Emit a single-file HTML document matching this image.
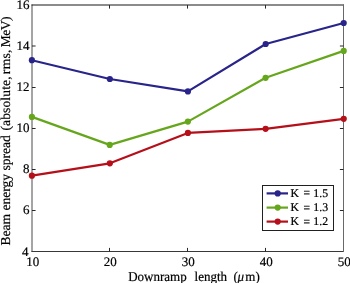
<!DOCTYPE html>
<html><head><meta charset="utf-8"><style>
html,body{margin:0;padding:0;background:#fff;width:350px;height:283px;overflow:hidden}
svg{display:block;will-change:transform}
text{font-family:"Liberation Serif", serif;fill:#000;text-rendering:geometricPrecision;stroke:#000;stroke-width:0.2px}
</style></head><body>
<svg width="350" height="283" viewBox="0 0 350 283">
<line x1="32" y1="4.5" x2="32" y2="252" stroke="#4a4a4a" stroke-width="1"/>
<line x1="31.5" y1="251.5" x2="344" y2="251.5" stroke="#383838" stroke-width="1"/>
<line x1="31.5" y1="5" x2="344" y2="5" stroke="#181818" stroke-width="1.15"/>
<line x1="343.5" y1="4.5" x2="343.5" y2="252" stroke="#686868" stroke-width="1"/>
<line x1="32" y1="210.5" x2="35.6" y2="210.5" stroke="#282828" stroke-width="1"/>
<line x1="343.5" y1="210.5" x2="339.9" y2="210.5" stroke="#282828" stroke-width="1"/>
<line x1="32" y1="169.5" x2="35.6" y2="169.5" stroke="#282828" stroke-width="1"/>
<line x1="343.5" y1="169.5" x2="339.9" y2="169.5" stroke="#282828" stroke-width="1"/>
<line x1="32" y1="128.5" x2="35.6" y2="128.5" stroke="#282828" stroke-width="1"/>
<line x1="343.5" y1="128.5" x2="339.9" y2="128.5" stroke="#282828" stroke-width="1"/>
<line x1="32" y1="87.5" x2="35.6" y2="87.5" stroke="#282828" stroke-width="1"/>
<line x1="343.5" y1="87.5" x2="339.9" y2="87.5" stroke="#282828" stroke-width="1"/>
<line x1="32" y1="46.0" x2="35.6" y2="46.0" stroke="#282828" stroke-width="1"/>
<line x1="343.5" y1="46.0" x2="339.9" y2="46.0" stroke="#282828" stroke-width="1"/>
<line x1="109.5" y1="251.5" x2="109.5" y2="247.9" stroke="#282828" stroke-width="1"/>
<line x1="109.5" y1="5" x2="109.5" y2="8.6" stroke="#282828" stroke-width="1"/>
<line x1="187.5" y1="251.5" x2="187.5" y2="247.9" stroke="#282828" stroke-width="1"/>
<line x1="187.5" y1="5" x2="187.5" y2="8.6" stroke="#282828" stroke-width="1"/>
<line x1="265.5" y1="251.5" x2="265.5" y2="247.9" stroke="#282828" stroke-width="1"/>
<line x1="265.5" y1="5" x2="265.5" y2="8.6" stroke="#282828" stroke-width="1"/>
<text transform="translate(28.60,256.00)" font-size="13" text-anchor="end">4</text>
<text transform="translate(29.60,214.40)" font-size="13" text-anchor="end">6</text>
<text transform="translate(29.60,173.40)" font-size="13" text-anchor="end">8</text>
<text transform="translate(29.60,132.40)" font-size="13" text-anchor="end">10</text>
<text transform="translate(29.60,91.40)" font-size="13" text-anchor="end">12</text>
<text transform="translate(29.60,49.90)" font-size="13" text-anchor="end">14</text>
<text transform="translate(29.60,8.90)" font-size="13" text-anchor="end">16</text>
<text transform="translate(32.80,266.00)" font-size="13" text-anchor="middle">10</text>
<text transform="translate(110.30,266.00)" font-size="13" text-anchor="middle">20</text>
<text transform="translate(188.30,266.00)" font-size="13" text-anchor="middle">30</text>
<text transform="translate(266.30,266.00)" font-size="13" text-anchor="middle">40</text>
<text transform="translate(344.30,266.00)" font-size="13" text-anchor="middle">50</text>
<text transform="translate(0,280.6) scale(1,1.04)" font-size="13"><tspan x="128.2" y="0">Downramp</tspan><tspan x="194.6" y="0">length</tspan><tspan x="233.4" y="0">(</tspan><tspan x="237.6" y="0" font-style="italic">μ</tspan><tspan x="245.3" y="0">m</tspan><tspan x="255.6" y="0">)</tspan></text>
<text transform="translate(9.5,245.50) rotate(-90)" font-size="13.55">Beam energy spread</text>
<text transform="translate(9.5,130.57) rotate(-90)" font-size="13.55" letter-spacing="0.12">(absolute,</text>
<text transform="translate(9.5,74.14) rotate(-90)" font-size="13.55" letter-spacing="0.3">rms,</text>
<text transform="translate(9.5,47.25) rotate(-90)" font-size="13.55" letter-spacing="-0.5">MeV)</text>
<path d="M31.9,175.7 L109.85,163.3 L187.9,132.9 L265.6,128.8 L343.75,118.8" fill="none" stroke="#b5101a" stroke-width="2.2" stroke-linejoin="round"/>
<circle cx="31.9" cy="175.7" r="3.1" fill="#b5101a"/>
<circle cx="109.85" cy="163.3" r="3.1" fill="#b5101a"/>
<circle cx="187.9" cy="132.9" r="3.1" fill="#b5101a"/>
<circle cx="265.6" cy="128.8" r="3.1" fill="#b5101a"/>
<circle cx="343.75" cy="118.8" r="3.1" fill="#b5101a"/>
<path d="M31.9,116.9 L109.7,144.9 L187.9,121.6 L265.6,77.8 L343.7,50.9" fill="none" stroke="#66a61c" stroke-width="2.2" stroke-linejoin="round"/>
<circle cx="31.9" cy="116.9" r="3.1" fill="#66a61c"/>
<circle cx="109.7" cy="144.9" r="3.1" fill="#66a61c"/>
<circle cx="187.9" cy="121.6" r="3.1" fill="#66a61c"/>
<circle cx="265.6" cy="77.8" r="3.1" fill="#66a61c"/>
<circle cx="343.7" cy="50.9" r="3.1" fill="#66a61c"/>
<path d="M31.9,60.2 L109.85,79.0 L187.9,91.4 L265.7,44.0 L343.7,23.0" fill="none" stroke="#28248a" stroke-width="2.2" stroke-linejoin="round"/>
<circle cx="31.9" cy="60.2" r="3.1" fill="#28248a"/>
<circle cx="109.85" cy="79.0" r="3.1" fill="#28248a"/>
<circle cx="187.9" cy="91.4" r="3.1" fill="#28248a"/>
<circle cx="265.7" cy="44.0" r="3.1" fill="#28248a"/>
<circle cx="343.7" cy="23.0" r="3.1" fill="#28248a"/>
<rect x="262.5" y="185.5" width="71" height="45" fill="#fff" stroke="#202020" stroke-width="1"/>
<line x1="266.6" y1="193.4" x2="288" y2="193.4" stroke="#28248a" stroke-width="2.2"/>
<circle cx="277.7" cy="193.4" r="3.1" fill="#28248a"/>
<text transform="translate(290.60,196.60)" font-size="11.7">K</text>
<text transform="translate(313.30,196.60)" font-size="11.8">1.5</text>
<text transform="translate(303.40,197.30) scale(1,1.15)" font-size="11.5">=</text>
<line x1="266.6" y1="207.6" x2="288" y2="207.6" stroke="#66a61c" stroke-width="2.2"/>
<circle cx="277.7" cy="207.6" r="3.1" fill="#66a61c"/>
<text transform="translate(290.60,210.80)" font-size="11.7">K</text>
<text transform="translate(313.30,210.80)" font-size="11.8">1.3</text>
<text transform="translate(303.40,211.50) scale(1,1.15)" font-size="11.5">=</text>
<line x1="266.6" y1="221.6" x2="288" y2="221.6" stroke="#b5101a" stroke-width="2.2"/>
<circle cx="277.7" cy="221.6" r="3.1" fill="#b5101a"/>
<text transform="translate(290.60,224.80)" font-size="11.7">K</text>
<text transform="translate(313.30,224.80)" font-size="11.8">1.2</text>
<text transform="translate(303.40,225.50) scale(1,1.15)" font-size="11.5">=</text>
</svg>
</body></html>
